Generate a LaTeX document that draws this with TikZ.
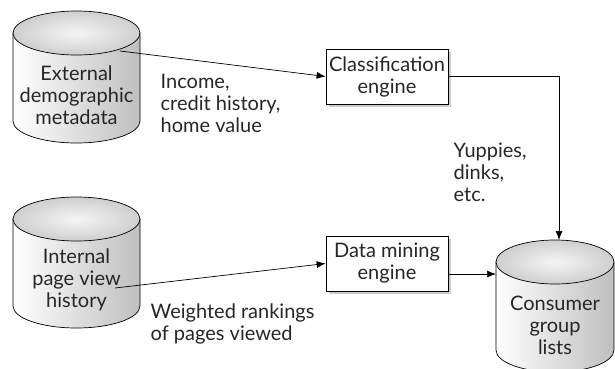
\documentclass[tikz,border=0pt]{standalone}
\usepackage{fontspec}
\setmainfont{Lato}
\usepackage{tikz}
\usetikzlibrary{arrows.meta,shadows}

\begin{document}
\begin{tikzpicture}[x=1pt, y=1pt, line width=0.7pt, >={Latex[length=9pt, width=7pt]},
    every node/.style={font=\fontsize{20}{22}\selectfont, text=black!85, align=center},
    box/.style={draw, fill=white, minimum width=122pt, minimum height=55pt, inner sep=2pt,
        drop shadow={shadow xshift=2.5pt, shadow yshift=-2.5pt, fill=gray!40, opacity=1}},
    body/.style={draw, left color=white, right color=gray!50},
    lid/.style={draw, inner color=gray!8, outer color=gray!38},
    tag/.style={align=left, anchor=west}]
    \useasboundingbox (0, 0) rectangle (615, 368);

    % Data stores
    \path[body] (13, 335) -- (13, 247) arc[start angle=180, end angle=360, x radius=63.5, y radius=22] -- (140, 335) -- cycle;
    \path[lid] (76.5, 335) ellipse [x radius=63.5, y radius=22];
    \node (ext) at (76.5, 273) {External\\demographic\\metadata};

    \path[body] (13, 149) -- (13, 62) arc[start angle=180, end angle=360, x radius=63.5, y radius=22] -- (140, 149) -- cycle;
    \path[lid] (76.5, 149) ellipse [x radius=63.5, y radius=22];
    \node (int) at (76.5, 88) {Internal\\page view\\history};

    \path[body] (496, 106) -- (496, 18) arc[start angle=180, end angle=360, x radius=59, y radius=22] -- (614, 106) -- cycle;
    \path[lid] (555, 106) ellipse [x radius=59, y radius=22];
    \node (cons) at (555, 43) {Consumer\\group\\lists};

    % Engines
    \node[box] (class) at (387, 291.5) {Classification\\engine};
    \node[box] (mine) at (387, 104.5) {Data mining\\engine};

    % Flows
    \coordinate (extout) at (120, 317);
    \coordinate (intout) at (115, 80);
    \coordinate (constop) at (559, 128);
    \coordinate (consleft) at (496, 94);
    \draw[->] (extout) -- (class.west);
    \draw[->] (class.east) -| (constop);
    \draw[->] (intout) -- (mine.west);
    \draw[->] (mine.east |- consleft) -- (consleft);

    % Flow labels
    \node[tag] (attrs) at (157, 265) {Income,\\credit history,\\home value};
    \node[tag] (groups) at (450, 196) {Yuppies,\\dinks,\\etc.};
    \node[tag] (ranks) at (147, 44) {Weighted rankings\\of pages viewed};
\end{tikzpicture}
\end{document}
